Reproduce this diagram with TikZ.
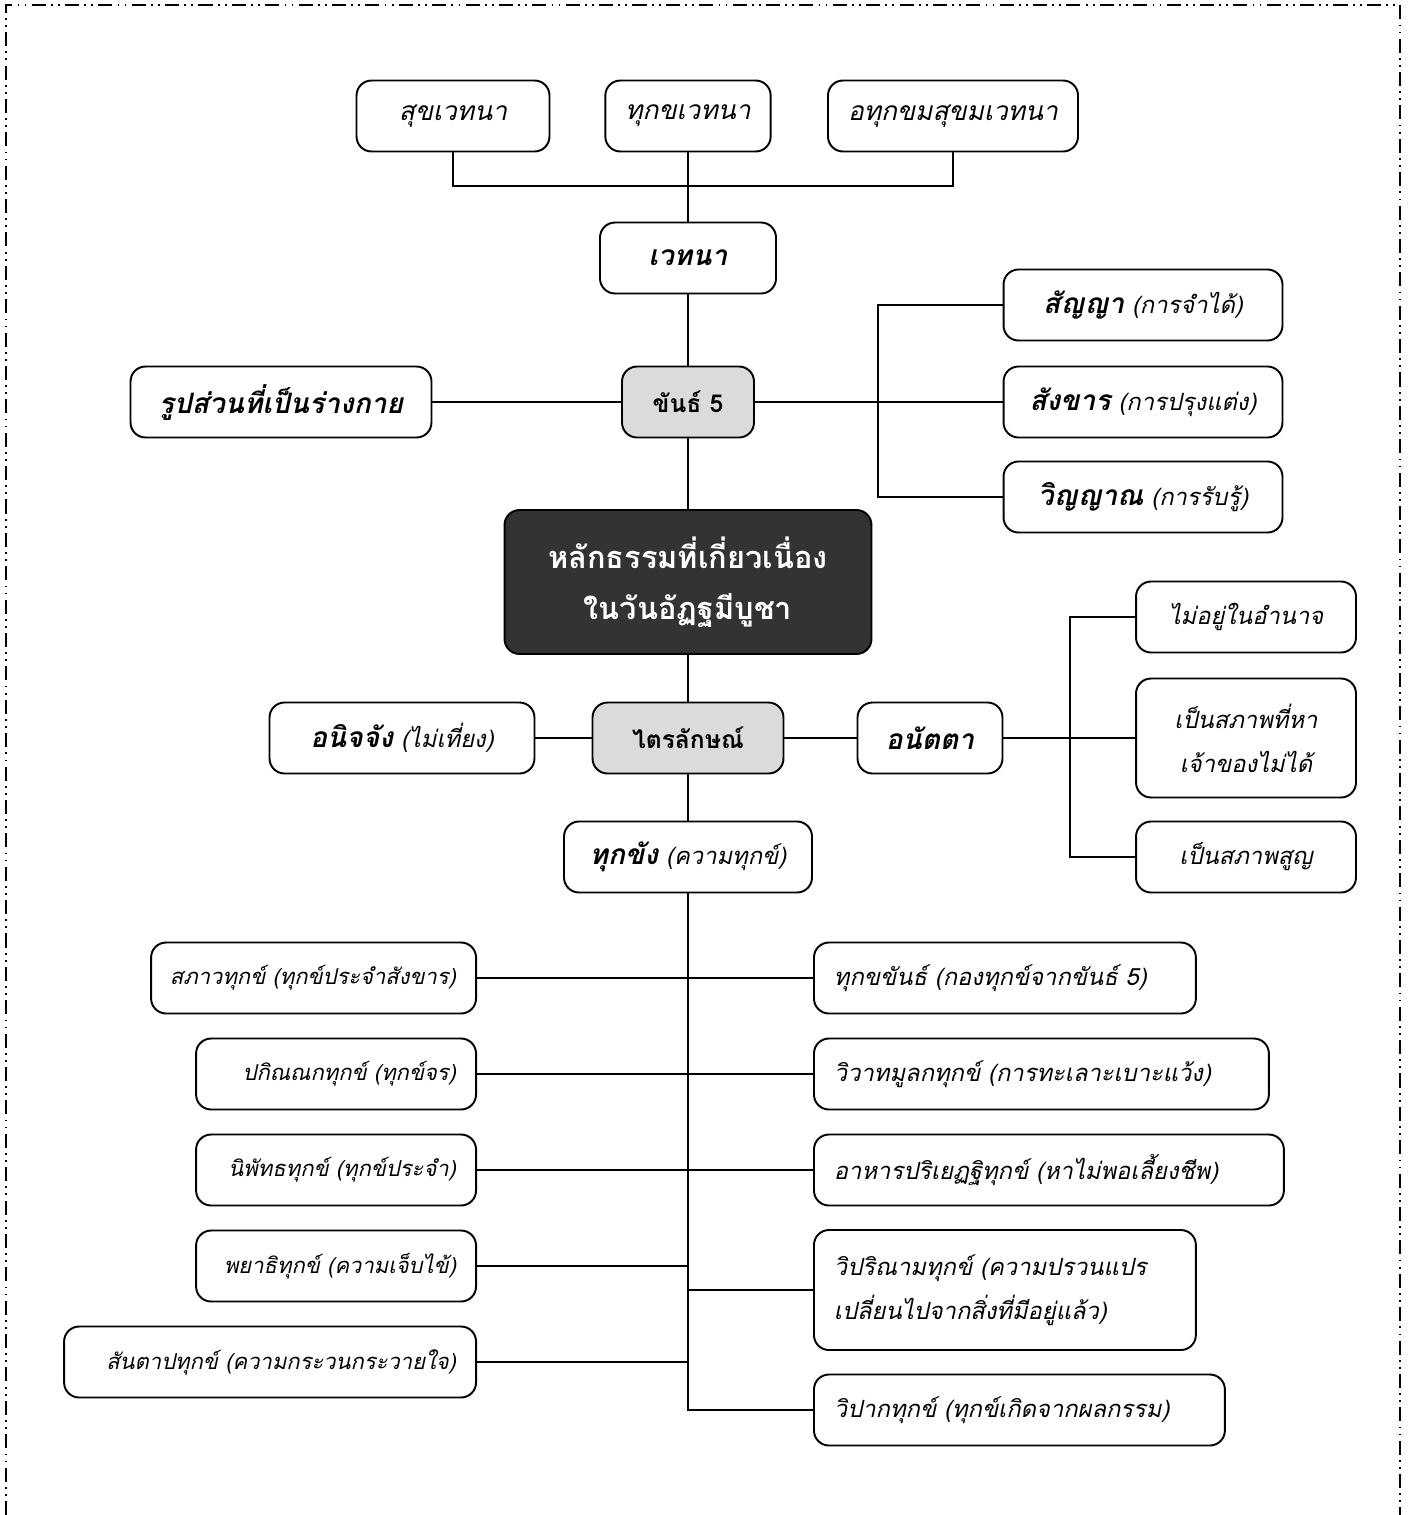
\documentclass[tikz,border=0pt]{standalone}
\usepackage{fontspec}
\newfontfamily\thaifont[Script=Thai]{Loma}
\newcommand\term[1]{\textbf{\fontsize{16}{25}\selectfont #1}}
\tikzset{
  every node/.style={font=\thaifont\itshape\fontsize{13.5}{25}\selectfont},
  box/.style={draw,line width=1.1pt,rounded corners=0.3cm,fill=white,
    minimum height=1.42cm,inner xsep=0.4cm,minimum width=#1},
  box/.default=3cm,
  top/.style={box=#1,font=\thaifont\itshape\fontsize{15}{25}\selectfont},
  hub/.style={box=#1,fill=black!14,font=\thaifont\bfseries\fontsize{14}{25}\selectfont},
  core/.style={box=7.34cm,fill=black!80,text=white,minimum height=2.88cm,align=center,
    font=\thaifont\bfseries\fontsize{17.5}{29}\selectfont},
  lft/.style={box,anchor=east,text width=#1,font=\thaifont\itshape\fontsize{12.5}{25}\selectfont,
    execute at begin node={\hbox to #1\bgroup\hss},execute at end node=\egroup},
  rgt/.style={box,anchor=west,align=left,text width=#1},
  link/.style={line width=1.1pt},
  frame/.style={line width=1pt,dash pattern=on 8pt off 3pt on 1pt off 3pt on 1pt off 3pt}
}

\begin{document}
\begin{tikzpicture}[x=0.02cm,y=-0.02cm]
      \useasboundingbox (0,0) rectangle (1413,1515);
      \draw [frame] (6,1515) -- (6,5) -- (1400,5) -- (1400,1515);

      \node [top=3.86cm] (sukha) at (453,116) {สุขเวทนา};
      \node [top=2.72cm] (dukkha) at (688,116) {ทุกขเวทนา};
      \node [top=5cm] (upekkha) at (953,116) {อทุกขมสุขมเวทนา};
      \node [box=3.52cm] (vedana) at (688,258) {\term{เวทนา}};
      \node [hub=2.64cm] (khandha) at (688,402) {ขันธ์ 5};
      \node [box=6.02cm] (rupa) at (281,402) {\term{รูปส่วนที่เป็นร่างกาย}};
      \node [box=5.58cm] (sanya) at (1143,305) {\term{สัญญา} (การจำได้)};
      \node [box=5.58cm] (sankhara) at (1143,402) {\term{สังขาร} (การปรุงแต่ง)};
      \node [box=5.58cm] (vinyana) at (1143,497) {\term{วิญญาณ} (การรับรู้)};
      \node [core] (dhamma) at (688,582) {หลักธรรมที่เกี่ยวเนื่อง\\ในวันอัฏฐมีบูชา};
      \node [hub=3.82cm] (trai) at (688,738) {ไตรลักษณ์};
      \node [box=5.3cm] (anicca) at (402,738) {\term{อนิจจัง} (ไม่เที่ยง)};
      \node [box=2.9cm] (anatta) at (930,738) {\term{อนัตตา}};
      \node [box=4.4cm] (power) at (1246,617) {ไม่อยู่ในอำนาจ};
      \node [box=4.4cm,minimum height=2.38cm,align=center] (owner) at (1246,738) {เป็นสภาพที่หา\\เจ้าของไม่ได้};
      \node [box=4.4cm] (void) at (1246,857) {เป็นสภาพสูญ};
      \node [box=4.96cm] (dukkhang) at (688,857) {\term{ทุกขัง} (ความทุกข์)};

      \node [lft=5.7cm] (l1) at (477,978) {สภาวทุกข์ (ทุกข์ประจำสังขาร)};
      \node [lft=4.8cm] (l2) at (477,1074) {ปกิณณกทุกข์ (ทุกข์จร)};
      \node [lft=4.8cm] (l3) at (477,1170) {นิพัทธทุกข์ (ทุกข์ประจำ)};
      \node [lft=4.8cm] (l4) at (477,1266) {พยาธิทุกข์ (ความเจ็บไข้)};
      \node [lft=7.44cm] (l5) at (477,1362) {สันตาปทุกข์ (ความกระวนกระวายใจ)};

      \node [rgt=6.84cm] (r1) at (813,978) {ทุกขขันธ์ (กองทุกข์จากขันธ์ 5)};
      \node [rgt=8.3cm] (r2) at (813,1074) {วิวาทมูลกทุกข์ (การทะเลาะเบาะแว้ง)};
      \node [rgt=8.6cm] (r3) at (813,1170) {อาหารปริเยฏฐิทุกข์ (หาไม่พอเลี้ยงชีพ)};
      \node [rgt=6.84cm,minimum height=2.4cm] (r4) at (813,1290) {วิปริณามทุกข์ (ความปรวนแปร\\เปลี่ยนไปจากสิ่งที่มีอยู่แล้ว)};
      \node [rgt=7.42cm] (r5) at (813,1410) {วิปากทุกข์ (ทุกข์เกิดจากผลกรรม)};

      \coordinate (bus) at (688,186);
      \coordinate (fork) at (878,402);
      \coordinate (split) at (1070,738);

      \draw [link] (sukha.south) |- (bus) -| (upekkha.south);
      \draw [link] (sanya.west) -| (fork) |- (vinyana.west);
      \draw [link] (power.west) -| (split) |- (void.west);
      \draw [link] (dukkhang.south) |- (r5.west);
      \foreach \from/\to in {dukkha/vedana,vedana/khandha,khandha/dhamma,dhamma/trai,trai/dukkhang}
        \draw [link] (\from.south) -- (\to.north);
      \foreach \from/\to in {rupa/khandha,khandha/sankhara,anicca/trai,trai/anatta,anatta/owner}
        \draw [link] (\from.east) -- (\to.west);
      \foreach \n in {l1,l2,l3,l4,l5}
        \draw [link] (\n.east) -- (\n.east -| dukkhang.south);
      \foreach \n in {r1,r2,r3,r4}
        \draw [link] (\n.west) -- (\n.west -| dukkhang.south);
    \end{tikzpicture}
\end{document}
